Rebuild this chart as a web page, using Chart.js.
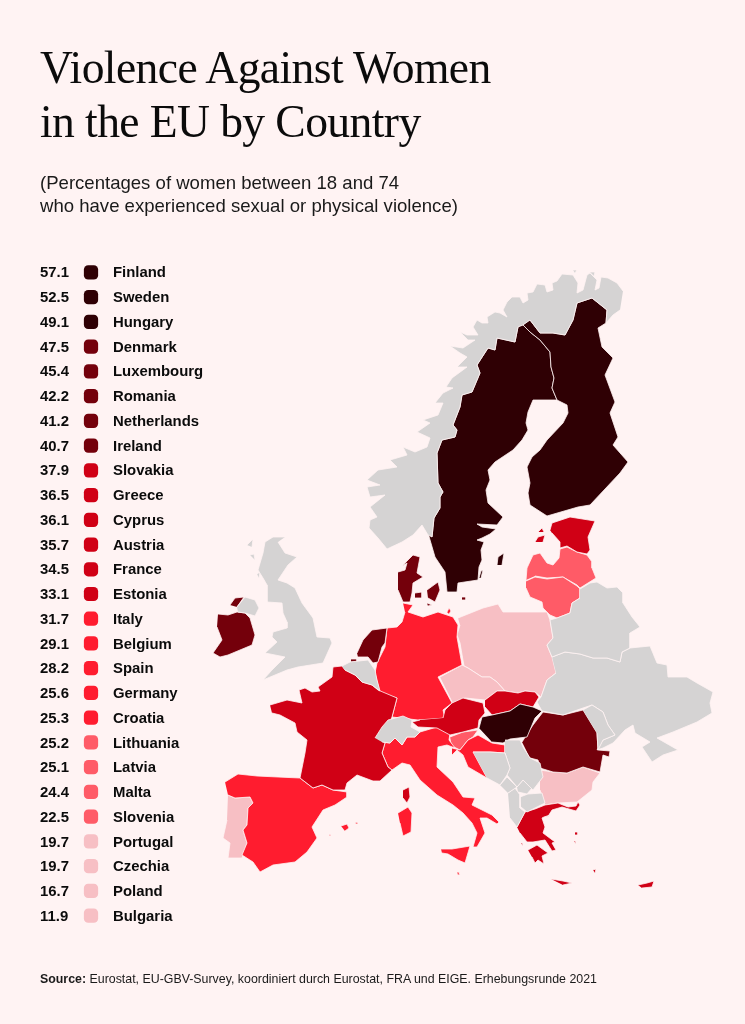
<!DOCTYPE html>
<html>
<head>
<meta charset="utf-8">
<title>Violence Against Women in the EU by Country</title>
<script src="https://cdn.jsdelivr.net/npm/chart.js@4/dist/chart.umd.min.js"></script>
<style>
html, body { margin: 0; padding: 0; background: #fff3f3; }
body { width: 745px; height: 1024px; position: relative; overflow: hidden; color: #0b0b0b; }
#mapChart { position: absolute; left: 0; top: 0; }
#listChart { position: absolute; left: 40px; top: 251px; }
h1 { position: absolute; left: 40px; top: 41px; margin: 0; font: 400 45.6px/54.2px "Liberation Serif", serif; letter-spacing: -0.6px; white-space: nowrap; }
.sub { position: absolute; left: 40px; top: 172px; font: 400 18.57px/22.5px "Liberation Sans", sans-serif; white-space: nowrap; color: #1a1a1a; }
.src { position: absolute; left: 40px; top: 972px; font: 400 12.38px/15px "Liberation Sans", sans-serif; white-space: nowrap; color: #1a1a1a; }
</style>
</head>
<body>
<canvas id="mapChart" width="745" height="1024"></canvas>
<canvas id="listChart" width="200" height="686"></canvas>
<h1>Violence Against Women<br>in the EU by Country</h1>
<div class="sub">(Percentages of women between 18 and 74<br>who have experienced sexual or physical violence)</div>
<div class="src"><b>Source:</b> Eurostat, EU-GBV-Survey, koordiniert durch Eurostat, FRA und EIGE. Erhebungsrunde 2021</div>
<script>
const countries = ["Finland", "Sweden", "Hungary", "Denmark", "Luxembourg", "Romania", "Netherlands", "Ireland", "Slovakia", "Greece", "Cyprus", "Austria", "France", "Estonia", "Italy", "Belgium", "Spain", "Germany", "Croatia", "Lithuania", "Latvia", "Malta", "Slovenia", "Portugal", "Czechia", "Poland", "Bulgaria"];
const values = [57.1, 52.5, 49.1, 47.5, 45.4, 42.2, 41.2, 40.7, 37.9, 36.5, 36.1, 35.7, 34.5, 33.1, 31.7, 29.1, 28.2, 25.6, 25.3, 25.2, 25.1, 24.4, 22.5, 19.7, 19.7, 16.7, 11.9];

// colour classes, lower bound of each class
const classFloors = [49, 40, 33, 25.3, 22, 0];
const classColors = ["#2f0004", "#74000b", "#d00015", "#ff1c2f", "#ff5b67", "#f7bfc4"];
const noData = "#d5d3d3";

// outlines, one list per country part
const finland = [[[530,320],[540,333],[553,333],[565,335],[573,320],[577,303],[592,298],[607,310],[606,323],[598,328],[602,347],[613,358],[605,375],[615,402],[610,413],[618,437],[613,445],[628,462],[620,473],[590,505],[578,507],[547,516],[530,505],[528,493],[530,483],[527,467],[532,457],[540,450],[547,440],[563,423],[568,413],[567,405],[557,400],[552,388],[554,378],[551,367],[550,352],[540,340],[530,332],[523,325]]];
const sweden = [[[523,325],[530,332],[540,340],[550,352],[551,367],[554,378],[552,388],[557,400],[533,400],[528,412],[526,423],[528,430],[522,440],[513,450],[495,462],[488,470],[490,480],[486,490],[488,503],[503,517],[497,525],[477,524],[482,527],[496,529],[490,534],[482,538],[477,540],[484,542],[481,550],[482,560],[479,567],[478,580],[458,583],[457,592],[447,592],[445,572],[435,557],[428,533],[432,537],[434,518],[440,508],[440,497],[443,492],[438,483],[437,453],[442,440],[455,437],[457,430],[453,425],[460,407],[462,395],[472,392],[480,373],[477,365],[488,348],[495,350],[497,338],[515,342],[518,327]],
  [[497,565],[498,557],[504,553],[502,565]], [[479,578],[481,571],[483,570],[481,578]]];
const norway = [[[623,291],[617,283],[608,278],[601,277],[599,288],[595,290],[597,280],[590,273],[587,275],[583,290],[577,293],[578,283],[573,275],[562,274],[557,281],[552,283],[553,290],[547,292],[545,285],[537,284],[533,292],[527,293],[528,300],[523,303],[520,297],[512,297],[507,302],[503,310],[507,317],[500,313],[495,312],[487,317],[488,323],[482,323],[477,320],[473,327],[478,335],[467,335],[460,332],[468,340],[475,340],[463,348],[450,346],[460,353],[467,357],[457,367],[467,367],[452,378],[446,387],[453,388],[443,393],[435,403],[443,403],[438,415],[423,420],[430,423],[417,432],[430,438],[427,447],[415,452],[403,447],[407,455],[390,460],[397,467],[378,470],[367,480],[380,485],[367,487],[370,497],[385,495],[370,507],[377,517],[370,520],[369,528],[378,538],[387,549],[402,542],[413,535],[422,525],[428,535],[432,537],[434,518],[440,508],[440,497],[443,492],[438,483],[437,453],[442,440],[455,437],[457,430],[453,425],[460,407],[462,395],[472,392],[480,373],[477,365],[488,348],[495,350],[497,338],[515,342],[518,327],[523,325],[530,320],[540,333],[553,333],[565,335],[573,320],[577,303],[592,298],[607,310],[606,323],[613,315],[620,310]], [[573,270],[577,270],[575,273]], [[590,272],[595,272],[594,276]]];
const estonia = [[[550,530],[552,523],[570,517],[595,521],[588,537],[590,550],[587,554],[577,552],[567,546],[560,548],[560,542],[552,533]], [[535,542],[538,537],[545,535],[543,542]], [[538,532],[542,528],[544,532]]];
const latvia = [[[526,580],[527,568],[533,555],[540,553],[547,563],[553,565],[559,558],[560,549],[567,547],[577,552],[587,555],[592,562],[592,568],[596,578],[580,588],[577,585],[563,577],[547,578],[535,576]]];
const lithuania = [[[526,581],[535,577],[547,579],[563,577],[577,586],[580,589],[580,598],[572,603],[570,613],[557,618],[550,615],[543,608],[542,602],[530,597],[526,588]]];
const belarus = [[[580,589],[590,583],[597,582],[607,588],[617,587],[623,593],[623,603],[632,617],[640,627],[630,633],[630,648],[622,652],[620,662],[607,658],[593,658],[580,654],[565,652],[552,657],[547,645],[553,638],[550,620],[557,618],[570,613],[572,603],[580,598]]];
const poland = [[[458,618],[483,608],[498,604],[503,612],[547,612],[550,620],[553,638],[547,645],[552,657],[556,673],[547,680],[541,697],[535,692],[525,691],[518,693],[505,691],[497,682],[490,677],[482,677],[468,668],[464,666],[460,643],[457,635],[460,625]]];
const germany = [[[403,603],[413,605],[408,612],[423,617],[438,612],[453,617],[458,625],[457,637],[462,665],[438,677],[452,703],[443,710],[445,718],[418,720],[392,717],[397,698],[380,693],[375,673],[377,663],[385,647],[387,628],[397,627],[402,622],[405,612]], [[447,612],[449,608],[451,611],[449,614]]];
const denmark = [[[398,572],[405,570],[407,563],[402,566],[413,555],[420,557],[417,573],[423,577],[413,583],[412,593],[410,602],[403,602],[398,590]], [[427,590],[438,582],[440,590],[435,602],[428,598]], [[415,593],[422,592],[422,598],[415,598]], [[427,603],[432,605],[428,606]], [[462,597],[466,597],[466,600],[462,600]]];
const netherlands = [[[357,653],[363,640],[372,630],[387,628],[385,643],[382,647],[378,662],[373,663],[368,657],[358,657]], [[351,659],[357,659],[357,662],[351,662]]];
const belgium = [[[342,666],[350,662],[368,660],[375,670],[377,680],[380,691],[372,685],[362,682],[355,675],[345,670]]];
const france = [[[270,705],[287,700],[302,703],[299,690],[305,688],[312,692],[320,691],[318,687],[332,677],[333,667],[342,666],[345,670],[355,675],[362,682],[372,685],[378,690],[397,698],[392,717],[390,722],[377,738],[385,743],[382,753],[388,767],[392,770],[380,781],[373,781],[357,775],[347,783],[345,790],[333,790],[322,785],[313,788],[300,778],[305,753],[307,740],[297,732],[295,723],[280,715],[272,713]], [[403,790],[409,787],[410,797],[407,803],[403,798]]];
const spain = [[[225,782],[238,774],[257,776],[278,777],[300,778],[313,788],[322,785],[333,790],[347,792],[347,797],[335,805],[323,810],[312,827],[317,838],[307,852],[295,862],[273,865],[260,872],[253,862],[242,855],[247,843],[243,830],[247,825],[248,808],[253,803],[250,797],[235,798],[228,795]], [[341,826],[347,824],[349,828],[345,831]], [[355,823],[357,822],[358,824]], [[329,835],[331,834],[331,836]]];
const portugal = [[[228,795],[235,798],[250,797],[253,803],[248,808],[247,825],[243,830],[247,843],[242,858],[228,858],[230,843],[223,838],[227,820]]];
const switzerland = [[[375,738],[382,727],[388,720],[403,716],[412,720],[411,727],[420,732],[415,737],[407,737],[402,745],[395,738],[390,743],[382,742]]];
const italy = [[[382,742],[390,743],[395,738],[402,745],[407,737],[415,737],[420,732],[437,727],[450,733],[449,740],[455,748],[447,745],[438,747],[437,767],[453,782],[463,797],[475,798],[472,805],[492,815],[499,822],[497,824],[487,818],[480,818],[485,833],[477,847],[473,847],[477,833],[472,823],[463,813],[453,805],[437,795],[420,780],[410,765],[402,763],[392,770],[388,767],[382,753],[385,743]], [[441,849],[452,849],[470,846],[465,863],[458,860],[448,854],[442,853]], [[398,813],[408,807],[412,813],[411,832],[403,836],[400,823]]];
const malta = [[[457,872],[459,872],[460,875],[458,875]]];
const austria = [[[443,718],[445,710],[452,703],[463,698],[483,703],[485,713],[479,720],[478,728],[463,732],[450,735],[437,728],[418,727],[412,722],[420,720]]];
const czechia = [[[440,677],[462,665],[468,668],[482,677],[490,677],[497,682],[505,691],[497,691],[485,700],[465,698],[453,703]]];
const slovakia = [[[485,700],[497,691],[505,691],[518,693],[525,691],[535,692],[539,697],[533,707],[520,704],[510,711],[492,715],[485,707]]];
const hungary = [[[479,728],[482,717],[492,715],[510,711],[520,704],[533,707],[542,711],[535,718],[527,737],[510,739],[503,743],[492,742]]];
const slovenia = [[[450,737],[463,732],[478,730],[473,737],[468,740],[460,750],[452,746]]];
const croatia = [[[452,748],[460,750],[468,740],[478,735],[492,743],[505,745],[505,753],[490,752],[473,752],[487,778],[468,767],[463,755],[457,750],[452,755]]];
const bosnia = [[[473,752],[490,752],[505,753],[510,768],[507,775],[500,785],[487,778]]];
const serbia = [[[505,740],[520,740],[523,747],[530,758],[540,763],[543,777],[533,790],[523,780],[517,787],[507,775],[510,768],[505,753]]];
const montenegro = [[[500,785],[507,777],[517,787],[508,793]]];
const kosovo = [[[517,787],[523,780],[532,788],[527,794],[518,792]]];
const albania = [[[508,793],[515,788],[520,795],[520,808],[525,812],[517,827],[510,818]]];
const macedonia = [[[520,797],[528,794],[542,793],[545,803],[527,812],[521,807]]];
const greece = [[[517,827],[525,812],[535,809],[545,805],[558,803],[568,807],[576,806],[578,802],[580,805],[576,811],[562,807],[552,810],[547,818],[550,815],[544,817],[542,818],[545,827],[543,833],[555,842],[552,843],[556,850],[552,851],[545,840],[533,842],[527,842],[520,833]], [[528,850],[537,845],[548,853],[542,856],[544,864],[538,860],[535,863],[532,857]], [[551,879],[563,881],[572,883],[563,885]], [[575,832],[578,832],[578,835],[575,835]], [[593,870],[596,869],[595,873]], [[574,841],[576,841],[576,844]], [[521,843],[523,843],[523,846]]];
const cyprus = [[[638,885],[647,883],[654,881],[652,887],[642,888]]];
const bulgaria = [[[540,770],[553,772],[567,773],[583,767],[600,773],[593,782],[592,790],[577,802],[558,803],[545,805],[540,790]]];
const romania = [[[522,742],[533,725],[543,712],[563,715],[583,710],[597,733],[598,750],[610,751],[609,757],[603,755],[600,772],[583,767],[567,773],[553,772],[540,768],[538,760],[530,758]]];
const moldova = [[[583,710],[592,705],[603,712],[608,725],[615,735],[603,740],[598,750],[597,733]]];
const ukraine = [[[552,657],[565,652],[580,654],[593,658],[607,658],[620,662],[622,652],[630,648],[650,646],[657,663],[667,665],[668,677],[687,677],[697,683],[713,692],[710,703],[712,713],[697,722],[673,732],[657,738],[678,750],[663,755],[652,762],[642,747],[650,742],[635,733],[633,725],[625,730],[613,743],[603,748],[597,750],[603,740],[615,735],[608,725],[603,712],[592,705],[583,708],[563,715],[542,711],[537,702],[541,697],[547,680],[556,673]]];
const britain = [[[285,537],[273,537],[265,542],[263,553],[258,570],[263,578],[267,585],[267,602],[282,603],[283,613],[287,622],[287,628],[273,632],[272,637],[277,642],[265,653],[285,657],[272,670],[263,680],[287,670],[298,667],[323,663],[332,643],[330,638],[317,637],[313,618],[302,603],[295,588],[287,583],[278,580],[288,565],[297,557],[285,553],[278,542]], [[237,607],[245,597],[255,600],[259,608],[255,616],[245,613],[238,612]], [[247,545],[253,539],[252,547]], [[250,555],[254,554],[255,560]], [[257,574],[260,572],[259,578]]];
const ireland = [[[218,614],[228,615],[237,612],[245,613],[250,618],[255,635],[252,645],[228,655],[220,657],[213,653],[222,640],[217,627]], [[230,605],[235,598],[244,597],[237,607]]];

const mapParts = {
  Finland: finland, Sweden: sweden, Hungary: hungary, Denmark: denmark, Romania: romania, Netherlands: netherlands, Ireland: ireland,
  Slovakia: slovakia, Greece: greece, Cyprus: cyprus, Austria: austria, France: france, Estonia: estonia, Italy: italy,
  Spain: spain, Germany: germany, Croatia: croatia, Lithuania: lithuania, Latvia: latvia, Malta: malta, Slovenia: slovenia, Portugal: portugal,
  Czechia: czechia, Poland: poland, Bulgaria: bulgaria
};
const greyParts = [norway, belgium, switzerland, belarus, moldova, ukraine, britain, bosnia, serbia, montenegro, kosovo, albania, macedonia];

function colorFor(v) {
  for (let i = 0; i < classFloors.length; i++) {
    if (v >= classFloors[i]) return classColors[i];
  }
  return classColors[classColors.length - 1];
}

function partDataset(part, color) {
  return {
    data: part.map(p => ({ x: p[0], y: p[1] })),
    showLine: true,
    fill: "shape",
    tension: 0,
    pointRadius: 0,
    backgroundColor: color,
    borderColor: "#fff3f3",
    borderWidth: 0.8
  };
}

const mapDatasets = [];
greyParts.forEach(c => c.forEach(p => mapDatasets.push(partDataset(p, noData))));
countries.forEach((name, i) => {
  const parts = mapParts[name];
  if (parts) parts.forEach(p => mapDatasets.push(partDataset(p, colorFor(values[i]))));
});

new Chart(document.getElementById("mapChart"), {
  type: "scatter",
  data: { datasets: mapDatasets },
  options: {
    responsive: false,
    animation: false,
    layout: { padding: 0 },
    plugins: { legend: { display: false }, tooltip: { enabled: false } },
    scales: {
      x: { type: "linear", min: 0, max: 745, display: false },
      y: { type: "linear", min: 0, max: 1024, reverse: true, display: false }
    }
  }
});

const listFont = { family: "'Liberation Sans', sans-serif", size: 14.9, weight: "bold" };

new Chart(document.getElementById("listChart"), {
  type: "line",
  data: {
    labels: countries,
    datasets: [{
      data: countries.map(() => 0),
      showLine: false,
      pointStyle: "rectRounded",
      pointRadius: 8.3,
      pointBorderWidth: 0,
      pointBackgroundColor: values.map(colorFor),
      xAxisID: "x",
      yAxisID: "y"
    }]
  },
  options: {
    indexAxis: "y",
    responsive: false,
    animation: false,
    layout: { padding: 0 },
    plugins: { legend: { display: false }, tooltip: { enabled: false } },
    scales: {
      x: { type: "linear", min: -1, max: 2, display: false },
      y: {
        type: "category",
        position: "left",
        offset: true,
        labels: countries,
        grid: { display: false, drawTicks: false },
        border: { display: false },
        afterFit: s => { s.width = 40; },
        ticks: {
          autoSkip: false,
          crossAlign: "far",
          padding: 0,
          labelOffset: 1,
          color: "#0b0b0b",
          font: listFont,
          callback: (v, i) => values[i].toFixed(1)
        }
      },
      names: {
        type: "category",
        position: "right",
        offset: true,
        labels: countries,
        grid: { display: false, drawTicks: false },
        border: { display: false },
        afterFit: s => { s.width = 127; },
        ticks: { autoSkip: false, padding: 0, labelOffset: 1, color: "#0b0b0b", font: listFont }
      }
    }
  }
});
</script>
</body>
</html>
